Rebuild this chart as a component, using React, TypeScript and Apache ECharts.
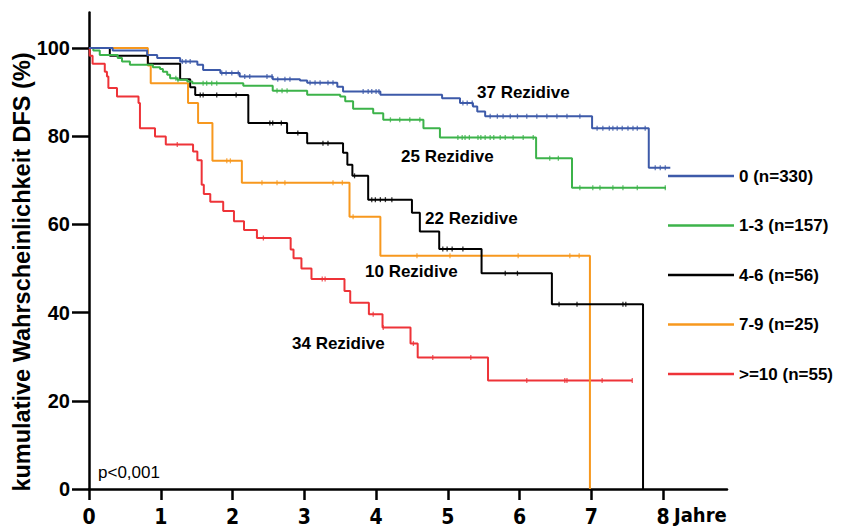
import React, { useEffect, useRef } from "react";
import * as echarts from "echarts";

// ---------- data ----------
const groupNames = ["0 (n=330)", "1-3 (n=157)", "4-6 (n=56)", "7-9 (n=25)", ">=10 (n=55)"];
const groupColors = ["#3d5aa9", "#3cb34a", "#000000", "#f7981e", "#ee3338"];

// Kaplan-Meier steps: [years, survival %]
const steps0: [number, number][] = [
  [0, 100], [0.33, 99.4], [0.81, 98.4], [0.95, 97.7], [1.27, 96.9], [1.51, 96.2], [1.59, 95.0],
  [1.83, 94.3], [2.1, 93.5], [2.56, 92.9], [2.94, 92.6], [3.04, 92.1], [3.46, 91.2], [3.54, 90.1],
  [4.06, 89.4], [4.92, 88.6], [5.17, 87.5], [5.35, 86.7], [5.41, 85.6], [5.52, 84.5], [7.01, 81.8],
  [7.8, 72.8], [8.1, 72.8],
];
const steps1: [number, number][] = [
  [0, 100], [0.06, 99.4], [0.15, 98.4], [0.4, 97.7], [0.46, 96.9], [0.57, 96.2], [0.89, 95.6],
  [0.99, 95.2], [1.03, 94.6], [1.09, 93.9], [1.13, 93.1], [1.23, 92.8], [1.37, 92.4], [1.44, 92.0],
  [2.15, 91.4], [2.56, 90.3], [3.04, 89.4], [3.5, 89.0], [3.57, 87.9], [3.68, 86.2], [3.96, 85.2],
  [4.1, 83.7], [4.66, 81.8], [4.89, 79.7], [6.23, 75.0], [6.73, 68.3], [8.04, 68.3],
];
const steps2: [number, number][] = [
  [0, 100], [0.29, 98.2], [0.82, 96.4], [1.27, 92.9], [1.41, 91.1], [1.48, 89.3], [2.22, 83.0],
  [2.76, 80.7], [3.04, 78.4], [3.54, 76.2], [3.6, 73.5], [3.67, 71.0], [3.89, 65.6], [4.5, 62.6],
  [4.61, 58.4], [4.88, 54.4], [5.47, 48.9], [6.45, 41.9], [7.72, 0],
];
const steps3: [number, number][] = [
  [0, 100], [0.82, 96.0], [0.86, 92.0], [1.38, 87.5], [1.52, 83.0], [1.72, 74.4], [2.13, 69.4],
  [3.63, 61.7], [4.06, 52.9], [6.98, 0],
];
const steps4: [number, number][] = [
  [0, 100], [0.01, 98.2], [0.05, 96.4], [0.22, 94.6], [0.25, 93.5], [0.27, 90.9], [0.39, 89.0],
  [0.69, 87.5], [0.71, 81.8], [0.92, 79.9], [1.07, 78.1], [1.45, 76.5], [1.51, 74.5], [1.57, 69.0],
  [1.6, 66.9], [1.69, 65.1], [1.87, 63.0], [2.02, 60.7], [2.16, 58.7], [2.34, 56.9], [2.81, 54.3],
  [2.85, 52.3], [2.96, 50.0], [3.1, 47.6], [3.56, 44.9], [3.64, 42.2], [3.9, 39.6], [4.09, 36.6],
  [4.48, 33.0], [4.58, 29.8], [5.56, 24.6], [7.57, 24.6],
];

// censored observations (years)
const censor0 = [
  1.3, 1.35, 1.41, 1.85, 1.91, 1.99, 2.08, 2.17, 2.24, 2.48, 2.55, 2.63, 2.73, 2.8, 3.08, 3.15,
  3.22, 3.33, 3.4, 3.82, 3.89, 3.94, 4.0, 4.04, 5.21, 5.27, 5.34, 5.59, 5.69, 5.77, 5.87, 5.97,
  6.1, 6.24, 6.38, 6.52, 6.66, 6.84, 7.08, 7.16, 7.25, 7.3, 7.36, 7.43, 7.51, 7.58, 7.64, 7.75,
  7.89, 7.96, 8.03,
];
const censor1 = [
  1.21, 1.24, 1.59, 1.64, 1.71, 1.78, 2.62, 2.69, 2.76, 4.2, 4.33, 4.47, 4.61, 5.14, 5.2, 5.24,
  5.3, 5.42, 5.46, 5.52, 5.59, 5.64, 5.73, 5.8, 5.91, 6.05, 6.19, 6.42, 6.54, 6.84, 7.02, 7.12,
  7.3, 7.44, 7.64, 8.03,
];
const censor2 = [
  1.55, 1.59, 1.78, 2.05, 2.52, 2.56, 2.68, 2.91, 3.26, 3.33, 3.7, 3.94, 3.99, 4.06, 4.13, 4.22,
  4.93, 4.99, 5.06, 5.21, 5.8, 5.97, 6.55, 6.8, 7.44, 7.48,
];
const censor3 = [1.92, 1.97, 2.41, 2.62, 2.73, 3.4, 3.53, 3.68, 4.57, 5.03, 5.98, 6.7, 6.83];
const censor4 = [1.23, 2.43, 3.25, 3.29, 3.96, 4.1, 4.52, 4.79, 5.32, 6.1, 6.63, 6.66, 7.15, 7.57];

const xTickValues = [0, 1, 2, 3, 4, 5, 6, 7, 8];
const yTickValues = [0, 20, 40, 60, 80, 100];
const annotationTexts = ["37 Rezidive", "25 Rezidive", "22 Rezidive", "10 Rezidive", "34 Rezidive"];
const yAxisTitle = "kumulative Wahrscheinlichkeit DFS (%)";
const xAxisUnit = "Jahre";
const pValueText = "p<0,001";

const allSteps = [steps0, steps1, steps2, steps3, steps4];
const allCensor = [censor0, censor1, censor2, censor3, censor4];

function survivalAt(steps: [number, number][], t: number): number {
  let s = steps[0][1];
  for (const [x, y] of steps) {
    if (x <= t) s = y;
    else break;
  }
  return s;
}

const FONT = "'Liberation Sans', Arial, Helvetica, sans-serif";
const NARROW = "'Liberation Sans Narrow', 'Arial Narrow', 'DejaVu Sans Condensed', 'Liberation Sans', sans-serif";

export default function App() {
  const ref = useRef<HTMLDivElement>(null);

  useEffect(() => {
    if (!ref.current) return;
    const chart = echarts.init(ref.current, undefined, { renderer: "svg" });

    const lineSeries = groupNames.map((name, i) => ({
      name,
      type: "line",
      step: "end",
      data: allSteps[i],
      showSymbol: false,
      symbol: "none",
      color: groupColors[i],
      lineStyle: { width: 2, color: groupColors[i] },
      z: 10 - i,
    }));
    const censorSeries = groupNames.map((name, i) => ({
      name: name + " zensiert",
      type: "scatter",
      data: allCensor[i].map((t) => [t, survivalAt(allSteps[i], t)]),
      symbol: "rect",
      symbolSize: [1.3, 5],
      itemStyle: { color: groupColors[i] },
      silent: true,
      z: 10 - i,
    }));

    const annPos = [
      [477, 92],
      [401, 156],
      [425, 218],
      [365, 271],
      [292, 343],
    ];

    chart.setOption({
      animation: false,
      grid: { left: 89, right: 114, top: 12.6, bottom: 37, containLabel: false },
      xAxis: {
        type: "value",
        min: 0,
        max: 8.89,
        interval: 1,
        splitLine: { show: false },
        axisLine: { show: true, onZero: false, lineStyle: { color: "#000", width: 2.5 } },
        axisTick: { show: true, length: 11, customValues: xTickValues, lineStyle: { color: "#000", width: 2.5 } },
        axisLabel: {
          customValues: xTickValues,
          margin: 17,
          fontSize: 21,
          fontWeight: "bold",
          fontFamily: NARROW,
          color: "#000",
        },
      },
      yAxis: {
        type: "value",
        min: 0,
        max: 108,
        interval: 20,
        splitLine: { show: false },
        axisLine: { show: true, onZero: false, lineStyle: { color: "#000", width: 2.5 } },
        axisTick: { show: true, length: 17, customValues: yTickValues, lineStyle: { color: "#000", width: 2.5 } },
        axisLabel: {
          customValues: yTickValues,
          margin: 19,
          fontSize: 20,
          fontWeight: "bold",
          fontFamily: FONT,
          color: "#000",
        },
      },
      legend: {
        data: groupNames,
        orient: "vertical",
        left: 668,
        top: 166,
        padding: 0,
        itemWidth: 66,
        itemHeight: 2.5,
        itemGap: 29.5,
        icon: "rect",
        selectedMode: false,
        textStyle: { fontSize: 17, fontWeight: "bold", fontFamily: FONT, color: "#000", lineHeight: 20 },
      },
      graphic: [
        {
          type: "text",
          x: 22,
          y: 272,
          rotation: Math.PI / 2,
          style: {
            text: yAxisTitle,
            fontSize: 23.5,
            fontWeight: "bold",
            fontFamily: FONT,
            fill: "#000",
            textAlign: "center",
            textVerticalAlign: "middle",
          },
        },
        {
          type: "text",
          x: 674,
          y: 515,
          style: {
            text: xAxisUnit,
            fontSize: 20,
            fontWeight: "bold",
            fontFamily: NARROW,
            fill: "#000",
            textAlign: "left",
            textVerticalAlign: "middle",
          },
        },
        {
          type: "text",
          x: 98,
          y: 472,
          style: {
            text: pValueText,
            fontSize: 17,
            fontFamily: FONT,
            fill: "#000",
            textAlign: "left",
            textVerticalAlign: "middle",
          },
        },
        ...annotationTexts.map((text, i) => ({
          type: "text",
          x: annPos[i][0],
          y: annPos[i][1],
          style: {
            text,
            fontSize: 17,
            fontWeight: "bold",
            fontFamily: FONT,
            fill: "#000",
            textAlign: "left",
            textVerticalAlign: "middle",
          },
        })),
      ],
      series: [...lineSeries, ...censorSeries],
    });

    return () => chart.dispose();
  }, []);

  return (
    <div
      ref={ref}
      style={{ position: "fixed", left: 0, top: 0, width: 841, height: 527, background: "#fff" }}
    />
  );
}
